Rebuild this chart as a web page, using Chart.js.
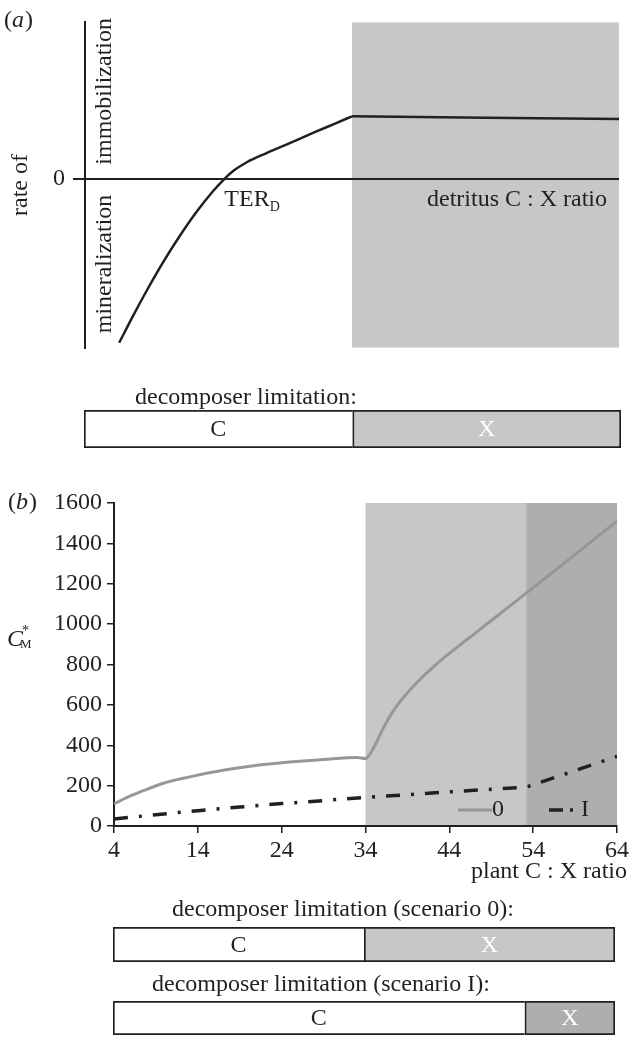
<!DOCTYPE html>
<html>
<head>
<meta charset="utf-8">
<script src="https://cdn.jsdelivr.net/npm/chart.js@4.4.1/dist/chart.umd.min.js"></script>
<style>
  body { margin: 0; background: #fff; }
  canvas { position: absolute; left: 0; }
</style>
</head>
<body>
<canvas id="panelA" width="641" height="370" style="top:0"></canvas>
<canvas id="limitA" width="641" height="70" style="top:380px"></canvas>
<canvas id="panelB" width="641" height="410" style="top:480px"></canvas>
<canvas id="limit0" width="641" height="78" style="top:885px"></canvas>
<canvas id="limitI" width="641" height="72" style="top:965px"></canvas>
<script>
// panel (a): schematic curve, arbitrary units
const detritusRatio = [6.4, 9.0, 11.6, 14.7, 17.8, 20.9, 24.0, 25.9, 27.8, 30.3, 34.0, 37.8, 42.8, 46.5, 50.0];
const netRate = [-1.050, -0.878, -0.714, -0.531, -0.364, -0.212, -0.079, -0.009, 0.050, 0.105, 0.164, 0.220, 0.294, 0.348, 0.399];
const plateauRatio = [50.0, 75, 100];
const plateauRate = [0.399, 0.390, 0.382];
const terD = 26.1;
const limitEdgesA = [0, 50, 100];

// panel (b)
const plantRatio = [4, 6, 8, 10, 12, 14, 17, 20, 24, 29, 33, 34, 35, 36, 37, 38, 40, 42, 44, 46, 48, 50, 53, 56, 58, 61, 64];
const scenario0 = [110, 150, 183, 213, 234, 252, 276, 295, 313, 329, 339, 334, 390, 475, 550, 610, 705, 785, 855, 920, 985, 1050, 1148, 1246, 1312, 1411, 1510];
const plantRatioI = [4, 9, 14, 19, 24, 29, 34, 39, 44, 49, 53.2, 58, 64];
const scenarioI = [35, 56, 76, 94, 111, 126, 142, 155, 169, 182, 193, 260, 345];
const xTicksB = [4, 14, 24, 34, 44, 54, 64];
const limitEdges0 = [4, 34, 64];
const limitEdgesI = [4, 53.2, 64];
const limitLabels = ['C', 'X'];

const SERIF = "'Liberation Serif', 'Times New Roman', serif";
const INK = '#231f20';
const SHADE = '#c6c7c9';
const SHADE_DARK = '#adaeb0';
const GREY_LINE = '#969798';

Chart.defaults.font.family = SERIF;
Chart.defaults.font.size = 24;
Chart.defaults.color = INK;

function panelTag(ctx, letter, x, y) {
  ctx.save();
  ctx.fillStyle = INK;
  ctx.textAlign = 'left';
  ctx.textBaseline = 'middle';
  ctx.font = `24px ${SERIF}`;
  ctx.fillText('(', x, y);
  let cx = x + ctx.measureText('(').width;
  ctx.font = `italic 24px ${SERIF}`;
  ctx.fillText(letter, cx, y);
  cx += ctx.measureText(letter).width + 1;
  ctx.font = `24px ${SERIF}`;
  ctx.fillText(')', cx, y);
  ctx.restore();
}

// grey bands behind everything
const shadePlugin = {
  id: 'shade',
  beforeDraw(chart, args, opts) {
    const {ctx, chartArea: a, scales: {x}} = chart;
    ctx.save();
    (opts.bands || []).forEach(b => {
      const x0 = x.getPixelForValue(b.from), x1 = x.getPixelForValue(b.to);
      ctx.fillStyle = b.color;
      ctx.fillRect(x0, a.top, x1 - x0, a.bottom - a.top);
    });
    ctx.restore();
  }
};

const panelALabels = {
  id: 'panelALabels',
  afterDraw(chart) {
    const {ctx, chartArea: a, scales: {x, y}} = chart;
    const y0 = y.getPixelForValue(0);
    panelTag(ctx, 'a', 4, 21);
    ctx.save();
    ctx.fillStyle = INK;
    ctx.font = `24px ${SERIF}`;
    ctx.textBaseline = 'alphabetic';
    ctx.textAlign = 'left';
    const xc = x.getPixelForValue(terD);
    ctx.fillText('TER', xc, y0 + 27);
    const w = ctx.measureText('TER').width;
    ctx.font = `14px ${SERIF}`;
    ctx.fillText('D', xc + w, y0 + 32);
    ctx.font = `24px ${SERIF}`;
    ctx.textAlign = 'right';
    ctx.fillText('detritus C : X ratio', a.right - 12, y0 + 27);
    // side labels along the axis
    ctx.translate(a.left + 20, y0);
    ctx.rotate(-Math.PI / 2);
    ctx.textBaseline = 'middle';
    ctx.textAlign = 'left';
    ctx.fillText('immobilization', 14, 0);
    ctx.textAlign = 'right';
    ctx.fillText('mineralization', -16, 0);
    ctx.restore();
  }
};

const panelBLabels = {
  id: 'panelBLabels',
  afterDraw(chart) {
    const {ctx, chartArea: a} = chart;
    panelTag(ctx, 'b', 8, a.top);
    ctx.save();
    ctx.fillStyle = INK;
    ctx.textBaseline = 'middle';
    ctx.textAlign = 'left';
    // C*_M
    ctx.font = `italic 24px ${SERIF}`;
    ctx.fillText('C', 7, 160);
    ctx.font = `14px ${SERIF}`;
    ctx.fillText('*', 22, 151);
    ctx.font = `13px ${SERIF}`;
    ctx.fillText('M', 20, 165);
    // x title
    ctx.font = `24px ${SERIF}`;
    ctx.textAlign = 'right';
    ctx.fillText('plant C : X ratio', a.right + 10, a.bottom + 46);
    // legend
    const ly = a.bottom - 16;
    ctx.lineWidth = 3;
    ctx.strokeStyle = GREY_LINE;
    ctx.beginPath(); ctx.moveTo(458, ly); ctx.lineTo(492, ly); ctx.stroke();
    ctx.textAlign = 'left';
    ctx.fillText('0', 492, ly);
    ctx.strokeStyle = INK;
    ctx.lineWidth = 3.5;
    ctx.setLineDash([14, 7, 3, 7]);
    ctx.beginPath(); ctx.moveTo(549, ly); ctx.lineTo(576, ly); ctx.stroke();
    ctx.setLineDash([]);
    ctx.fillText('I', 581, ly);
    ctx.restore();
  }
};

// captions and C / X names on the limitation bars
const limitLabelsPlugin = {
  id: 'limitText',
  afterDraw(chart, args, opts) {
    const {ctx} = chart;
    ctx.save();
    ctx.font = `24px ${SERIF}`;
    ctx.textBaseline = 'middle';
    ctx.fillStyle = INK;
    ctx.textAlign = 'left';
    ctx.fillText(opts.caption, opts.captionX, opts.captionY);
    ctx.textAlign = 'center';
    chart.data.datasets.forEach((ds, i) => {
      const el = chart.getDatasetMeta(i).data[0];
      const {x, base, y} = el.getProps(['x', 'base', 'y'], true);
      ctx.fillStyle = ds.textColor;
      ctx.fillText(ds.label, (x + base) / 2, y + 1);
    });
    ctx.restore();
  }
};

function makeLimitBar(id, edges, fills, caption, captionX, captionY, pad) {
  new Chart(document.getElementById(id), {
    type: 'bar',
    data: {
      labels: ['limitation'],
      datasets: limitLabels.map((lab, i) => ({
        label: lab,
        data: [[edges[i], edges[i + 1]]],
        backgroundColor: fills[i],
        textColor: i === 0 ? INK : '#ffffff',
        borderColor: INK,
        borderWidth: i === 0 ? {left: 2, top: 2, bottom: 2, right: 0} : 2,
        borderSkipped: false,
        grouped: false,
        barPercentage: 1,
        categoryPercentage: 1
      }))
    },
    options: {
      indexAxis: 'y',
      responsive: false,
      animation: false,
      layout: { padding: pad },
      plugins: {
        legend: { display: false },
        tooltip: { enabled: false },
        limitText: { caption, captionX, captionY }
      },
      scales: {
        x: { type: 'linear', min: edges[0], max: edges[edges.length - 1], display: false },
        y: { display: false }
      }
    },
    plugins: [limitLabelsPlugin]
  });
}

// panel (a)
new Chart(document.getElementById('panelA'), {
  type: 'line',
  data: {
    datasets: [
      {
        data: detritusRatio.map((x, i) => ({x, y: netRate[i]})),
        borderColor: INK,
        borderWidth: 2.5,
        pointRadius: 0,
        cubicInterpolationMode: 'monotone',
        fill: false
      },
      {
        data: plateauRatio.map((x, i) => ({x, y: plateauRate[i]})),
        borderColor: INK,
        borderWidth: 2.5,
        pointRadius: 0,
        tension: 0,
        fill: false
      }
    ]
  },
  options: {
    responsive: false,
    animation: false,
    layout: { padding: { top: 14, right: 22, bottom: 8 } },
    plugins: {
      legend: { display: false },
      tooltip: { enabled: false },
      shade: { bands: [{ from: limitEdgesA[1], to: limitEdgesA[2], color: SHADE }] }
    },
    scales: {
      x: { type: 'linear', min: 0, max: 100, display: false },
      y: {
        min: -1.081, max: 1,
        afterBuildTicks: s => { s.ticks = [{value: 0}]; },
        afterFit: s => { s.width = 85; },
        ticks: { padding: 8, color: INK },
        grid: { color: INK, lineWidth: 2, tickLength: 12, drawOnChartArea: true },
        border: { display: true, color: INK, width: 2 },
        title: { display: true, text: 'rate of', padding: { top: 6 }, color: INK }
      }
    }
  },
  plugins: [shadePlugin, panelALabels]
});

makeLimitBar('limitA', limitEdgesA, ['#ffffff', SHADE], 'decomposer limitation:', 135, 18,
  { top: 30, bottom: 2, left: 84, right: 20 });

// panel (b)
new Chart(document.getElementById('panelB'), {
  type: 'line',
  data: {
    datasets: [
      {
        label: '0',
        data: plantRatio.map((x, i) => ({x, y: scenario0[i]})),
        borderColor: GREY_LINE,
        borderWidth: 3,
        pointRadius: 0,
        cubicInterpolationMode: 'monotone'
      },
      {
        label: 'I',
        data: plantRatioI.map((x, i) => ({x, y: scenarioI[i]})),
        borderColor: INK,
        borderWidth: 3.5,
        borderDash: [14, 11, 3, 11],
        pointRadius: 0,
        tension: 0
      }
    ]
  },
  options: {
    responsive: false,
    animation: false,
    layout: { padding: { top: 23, right: 24 } },
    plugins: {
      legend: { display: false },
      tooltip: { enabled: false },
      shade: { bands: [
        { from: limitEdges0[1], to: limitEdges0[2], color: SHADE },
        { from: limitEdgesI[1], to: limitEdgesI[2], color: SHADE_DARK }
      ] }
    },
    scales: {
      x: {
        type: 'linear', min: 4, max: 64,
        afterBuildTicks: s => { s.ticks = xTicksB.map(v => ({value: v})); },
        afterFit: s => { s.height = 64; },
        ticks: { padding: 3, color: INK, maxRotation: 0 },
        grid: { drawOnChartArea: false, color: INK, lineWidth: 1.5, tickLength: 7 },
        border: { color: INK, width: 2 }
      },
      y: {
        min: 0, max: 1600,
        afterFit: s => { s.width = 114; },
        ticks: { stepSize: 200, padding: 5, color: INK, callback: v => String(v) },
        grid: { drawOnChartArea: false, color: INK, lineWidth: 1.5, tickLength: 7 },
        border: { color: INK, width: 2 }
      }
    }
  },
  plugins: [shadePlugin, panelBLabels]
});

makeLimitBar('limit0', limitEdges0, ['#ffffff', SHADE], 'decomposer limitation (scenario 0):', 172, 25,
  { top: 42, bottom: 1, left: 113, right: 26 });
makeLimitBar('limitI', limitEdgesI, ['#ffffff', SHADE_DARK], 'decomposer limitation (scenario I):', 152, 20,
  { top: 36, bottom: 2, left: 113, right: 26 });
</script>
</body>
</html>
